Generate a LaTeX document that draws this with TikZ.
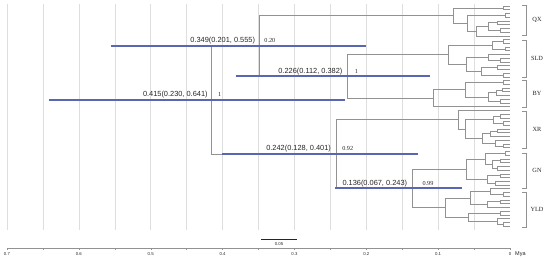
\documentclass[tikz,border=0pt]{standalone}
\usepackage{fontspec}
\setmainfont{Liberation Serif}
\newfontfamily\arialf{Liberation Sans}
\usetikzlibrary{calc}
\definecolor{hpdblue}{HTML}{5A66B2}
\definecolor{treegray}{HTML}{929292}
\definecolor{gridgray}{HTML}{DEDEDE}
\definecolor{textgray}{HTML}{262626}
\newcommand\inode[4]{%
  \path let \p1=($(#3)!0.5!(#4)$) in coordinate (#1) at (#2pt,\y1);
  \draw[br] (#1) |- (#3) (#1) |- (#4);
}
\begin{document}
\begin{tikzpicture}[x=1pt,y=-1pt,
  br/.style={draw=treegray,line width=0.65pt},
  hpd/.style={draw=hpdblue,line width=2pt},
  gridline/.style={draw=gridgray,line width=0.5pt},
  hpdlab/.style={font=\arialf\fontsize{7.4}{8}\selectfont,text=textgray,inner sep=0pt},
  suplab/.style={font=\fontsize{6.2}{7}\selectfont,text=textgray,inner sep=0pt},
  cladelab/.style={font=\fontsize{6.3}{7}\selectfont,text=textgray,inner sep=0pt},
  brk/.style={draw=treegray,line width=0.65pt},
  axlab/.style={font=\arialf\fontsize{4.3}{5}\selectfont,text=textgray,inner sep=0pt}]
\useasboundingbox (0,0) rectangle (550,259);
% grid
\foreach \k in {1,...,14} \draw[gridline] ({510-35.93*\k},4) -- ({510-35.93*\k},230);
% leaves
\foreach \i in {0,...,59} \coordinate (l\i) at (510,{6+3.73*\i});
% QX
\inode{q1}{503}{l0}{l1}
\inode{q2}{505}{l2}{l3}
\inode{q3}{497}{l4}{l5}
\inode{q4}{500}{l6}{l7}
\inode{q5}{488}{q3}{q4}
\inode{q6}{476}{q5}{l8}
\inode{q7}{467}{q2}{q6}
\inode{QX}{453}{q1}{q7}
% SLD
\inode{s1}{503}{l9}{l10}
\inode{s2}{505}{l11}{l12}
\inode{s3}{492}{s1}{s2}
\inode{s4}{500}{l14}{l15}
\inode{s5}{488}{l13}{s4}
\inode{s6}{497}{l16}{l17}
\inode{s7}{503}{l18}{l19}
\inode{s8}{481}{s6}{s7}
\inode{s9}{466}{s5}{s8}
\inode{SLD}{448}{s3}{s9}
% BY
\inode{b1}{503}{l20}{l21}
\inode{b2}{502}{l22}{l23}
\inode{b3}{496}{b2}{l24}
\inode{b4}{500}{l25}{l26}
\inode{b5}{488}{b3}{b4}
\inode{b6}{465}{b1}{b5}
\inode{BY}{433}{b6}{l27}
% XR
\inode{x1}{500}{l29}{l30}
\inode{x2}{503}{l31}{l32}
\inode{x3}{493}{x1}{x2}
\inode{x4}{497}{l33}{l34}
\inode{x5}{490}{x4}{l35}
\inode{x6}{503}{l37}{l38}
\inode{x7}{495}{l36}{x6}
\inode{x8}{482}{x5}{x7}
\inode{x9}{465}{x3}{x8}
\inode{XR}{458}{l28}{x9}
% GN
\inode{g1}{505}{l39}{l40}
\inode{g2}{500}{l41}{l42}
\inode{g3}{497}{l43}{l44}
\inode{g4}{492}{g2}{g3}
\inode{g5}{485}{g1}{g4}
\inode{g6}{500}{l45}{l46}
\inode{g7}{495}{l47}{l48}
\inode{g8}{487}{g6}{g7}
\inode{GN}{466}{g5}{g8}
% YLD
\inode{y1}{503}{l50}{l51}
\inode{y2}{490}{l49}{y1}
\inode{y3}{500}{l52}{l53}
\inode{y4}{487}{y3}{l54}
\inode{y5}{470}{y2}{y4}
\inode{y6}{500}{l55}{l56}
\inode{y7}{503}{l58}{l59}
\inode{y8}{497}{l57}{y7}
\inode{y9}{468}{y6}{y8}
\inode{YLD}{445}{y5}{y9}
% backbone
\inode{N136}{412.3}{GN}{YLD}
\inode{N242}{336.1}{XR}{N136}
\inode{N226}{347.6}{SLD}{BY}
\inode{N349}{259.2}{QX}{N226}
\inode{N415}{211.8}{N349}{N242}
% HPD bars
\coordinate (h415a) at (49.4,0);  \coordinate (h415b) at (344.7,0);
\coordinate (h349a) at (111.2,0); \coordinate (h349b) at (365.6,0);
\coordinate (h226a) at (235.5,0); \coordinate (h226b) at (429.5,0);
\coordinate (h242a) at (221.8,0); \coordinate (h242b) at (418.0,0);
\coordinate (h136a) at (335.4,0); \coordinate (h136b) at (461.9,0);
\draw[hpd] (h415a |- N415) -- (h415b |- N415);
\draw[hpd] (h349a |- N349) -- (h349b |- N349);
\draw[hpd] (h226a |- N226) -- (h226b |- N226);
\draw[hpd] (h242a |- N242) -- (h242b |- N242);
\draw[hpd] (h136a |- N136) -- (h136b |- N136);
% labels
\node[hpdlab,anchor=base east] (t415) at ($(N415)+(-4,-3.2)$) {0.415(0.230, 0.641)};
\node[suplab,anchor=base west] (p415) at ($(N415)+(6,-3.2)$) {1};
\node[hpdlab,anchor=base east] (t349) at ($(N349)+(-4,-3.2)$) {0.349(0.201, 0.555)};
\node[suplab,anchor=base west] (p349) at ($(N349)+(5,-3.2)$) {0.20};
\node[hpdlab,anchor=base east] (t226) at ($(N226)+(-5,-3.2)$) {0.226(0.112, 0.382)};
\node[suplab,anchor=base west] (p226) at ($(N226)+(7,-3.2)$) {1};
\node[hpdlab,anchor=base east] (t242) at ($(N242)+(-5,-3.2)$) {0.242(0.128, 0.401)};
\node[suplab,anchor=base west] (p242) at ($(N242)+(6,-3.2)$) {0.92};
\node[hpdlab,anchor=base east] (t136) at ($(N136)+(-5,-3.2)$) {0.136(0.067, 0.243)};
\node[suplab,anchor=base west] (p136) at ($(N136)+(10,-3.2)$) {0.99};
% clade brackets
\foreach \nm/\ya/\yb in {QX/5/35,SLD/40/77,BY/80/107,XR/111/148,GN/153/188,YLD/192/227}{
  \draw[brk] (522,\ya) -- (526,\ya) -- (526,\yb) -- (522,\yb);
  \node[cladelab] (c\nm) at (537,{(\ya+\yb)/2}) {\nm};
}
% scale bar
\coordinate (sba) at (261,239); \coordinate (sbb) at (297,239);
\draw[draw=textgray,line width=0.5pt] (sba) -- (sbb);
\node[axlab] (sbl) at (279,244) {0.05};
% axis
\draw[draw=treegray,line width=0.5pt] (7,248) -- (510,248);
\foreach \k in {0,...,14} \draw[draw=treegray,line width=0.4pt] ({510-35.93*\k},248) -- ({510-35.93*\k},250);
\foreach \k/\lab in {0/0,2/0.1,4/0.2,6/0.3,8/0.4,10/0.5,12/0.6,14/0.7}
  \node[axlab] at ({510-35.93*\k},254) {\lab};
\node[axlab,font=\arialf\fontsize{5.5}{6}\selectfont,anchor=west] (mya) at (515,254) {Mya};
\end{tikzpicture}
\end{document}
